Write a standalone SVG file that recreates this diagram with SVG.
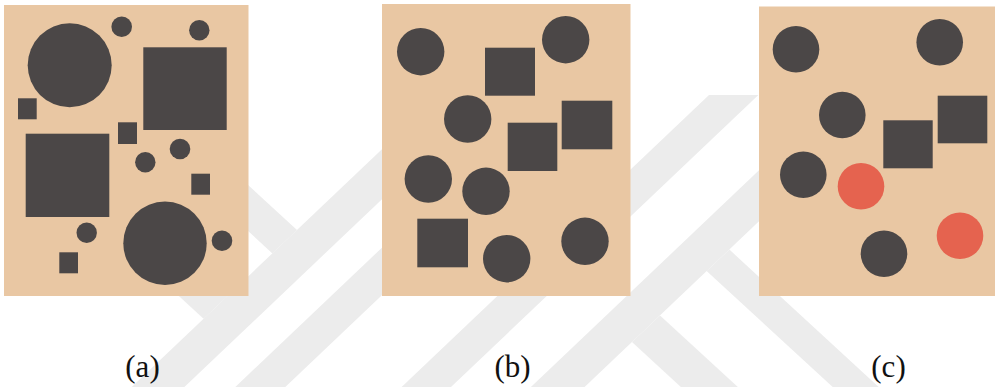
<svg xmlns="http://www.w3.org/2000/svg" width="996" height="387" viewBox="0 0 996 387">
<style>
.wm{fill:#ececec}
.bg{fill:#e9c7a3}
.d{fill:#4b4747}
.r{fill:#e5634f}
.lbl{font-family:"Liberation Serif","Times New Roman",serif;font-size:31px;fill:#111;text-anchor:middle}
</style>
<rect width="996" height="387" fill="#ffffff"/>
<g id="watermark">
<polygon class="wm" points="433.8,100 486.5,100 184.4,387 131.7,387"/>
<polygon class="wm" points="200,140.8 297,230 272.4,253.4 200,186.8"/>
<polygon class="wm" points="100,177.4 228.2,295.5 203.6,318.7 100,223.4"/>
<polygon class="wm" points="537.4,100 587.4,100 285.3,387 235.3,387"/>
<polygon class="wm" points="709,95 758.4,95 451,387 401.6,387"/>
<polygon class="wm" points="833,100 886.7,100 584.6,387 530.9,387"/>
<polygon class="wm" points="632,342 660,315.4 737.8,387 680.9,387"/>
<polygon class="wm" points="706.6,271 729.4,249.6 878.7,387 832.7,387"/>
</g>
<g id="panel-a">
<rect class="bg" x="4" y="5" width="244.5" height="291"/>
<circle class="d" cx="69.7" cy="65.3" r="42"/>
<circle class="d" cx="121.7" cy="26.7" r="10.3"/>
<circle class="d" cx="199.3" cy="30.3" r="10.2"/>
<rect class="d" x="143.3" y="47.3" width="83.4" height="82.7"/>
<rect class="d" x="18" y="98.3" width="18.7" height="21"/>
<rect class="d" x="118" y="122.3" width="19" height="21.7"/>
<rect class="d" x="25.7" y="133.7" width="83.6" height="83.3"/>
<circle class="d" cx="180" cy="149" r="10.3"/>
<circle class="d" cx="145.3" cy="162.3" r="10.2"/>
<rect class="d" x="191.3" y="173.7" width="18.7" height="21"/>
<circle class="d" cx="86.7" cy="232.7" r="10.2"/>
<circle class="d" cx="165" cy="243.3" r="41.7"/>
<circle class="d" cx="222" cy="240.7" r="10.3"/>
<rect class="d" x="59.3" y="252.3" width="18.7" height="21"/>
</g>
<g id="panel-b">
<rect class="bg" x="382" y="4" width="248.5" height="292"/>
<circle class="d" cx="420.7" cy="51.7" r="23.7"/>
<rect class="d" x="485" y="47.7" width="50" height="48"/>
<circle class="d" cx="565.7" cy="39.7" r="23.7"/>
<circle class="d" cx="467.7" cy="119" r="23.7"/>
<rect class="d" x="507.7" y="122.7" width="49.6" height="48.3"/>
<rect class="d" x="561.7" y="100.7" width="50.6" height="48.6"/>
<circle class="d" cx="428.3" cy="179" r="23.7"/>
<circle class="d" cx="486" cy="191.3" r="23.7"/>
<rect class="d" x="417.3" y="218.7" width="50.7" height="48.6"/>
<circle class="d" cx="506.7" cy="258.7" r="23.7"/>
<circle class="d" cx="585" cy="241.3" r="23.7"/>
</g>
<g id="panel-c">
<rect class="bg" x="759" y="6.5" width="236" height="289.5"/>
<circle class="d" cx="796" cy="49.3" r="23.3"/>
<circle class="d" cx="939.7" cy="42.3" r="23.3"/>
<circle class="d" cx="842.3" cy="115" r="23.3"/>
<rect class="d" x="883.3" y="120.3" width="49.4" height="48"/>
<rect class="d" x="937.7" y="95.7" width="49.6" height="47.6"/>
<circle class="d" cx="803.3" cy="174.7" r="23.3"/>
<circle class="r" cx="861" cy="186.3" r="23.3"/>
<circle class="r" cx="960" cy="235.7" r="23.3"/>
<circle class="d" cx="884" cy="253.7" r="23.3"/>
</g>
<g id="labels">
<text class="lbl" x="142.5" y="376.5">(a)</text>
<text class="lbl" x="512.5" y="376.5">(b)</text>
<text class="lbl" x="888.5" y="376.5">(c)</text>
</g>
</svg>
